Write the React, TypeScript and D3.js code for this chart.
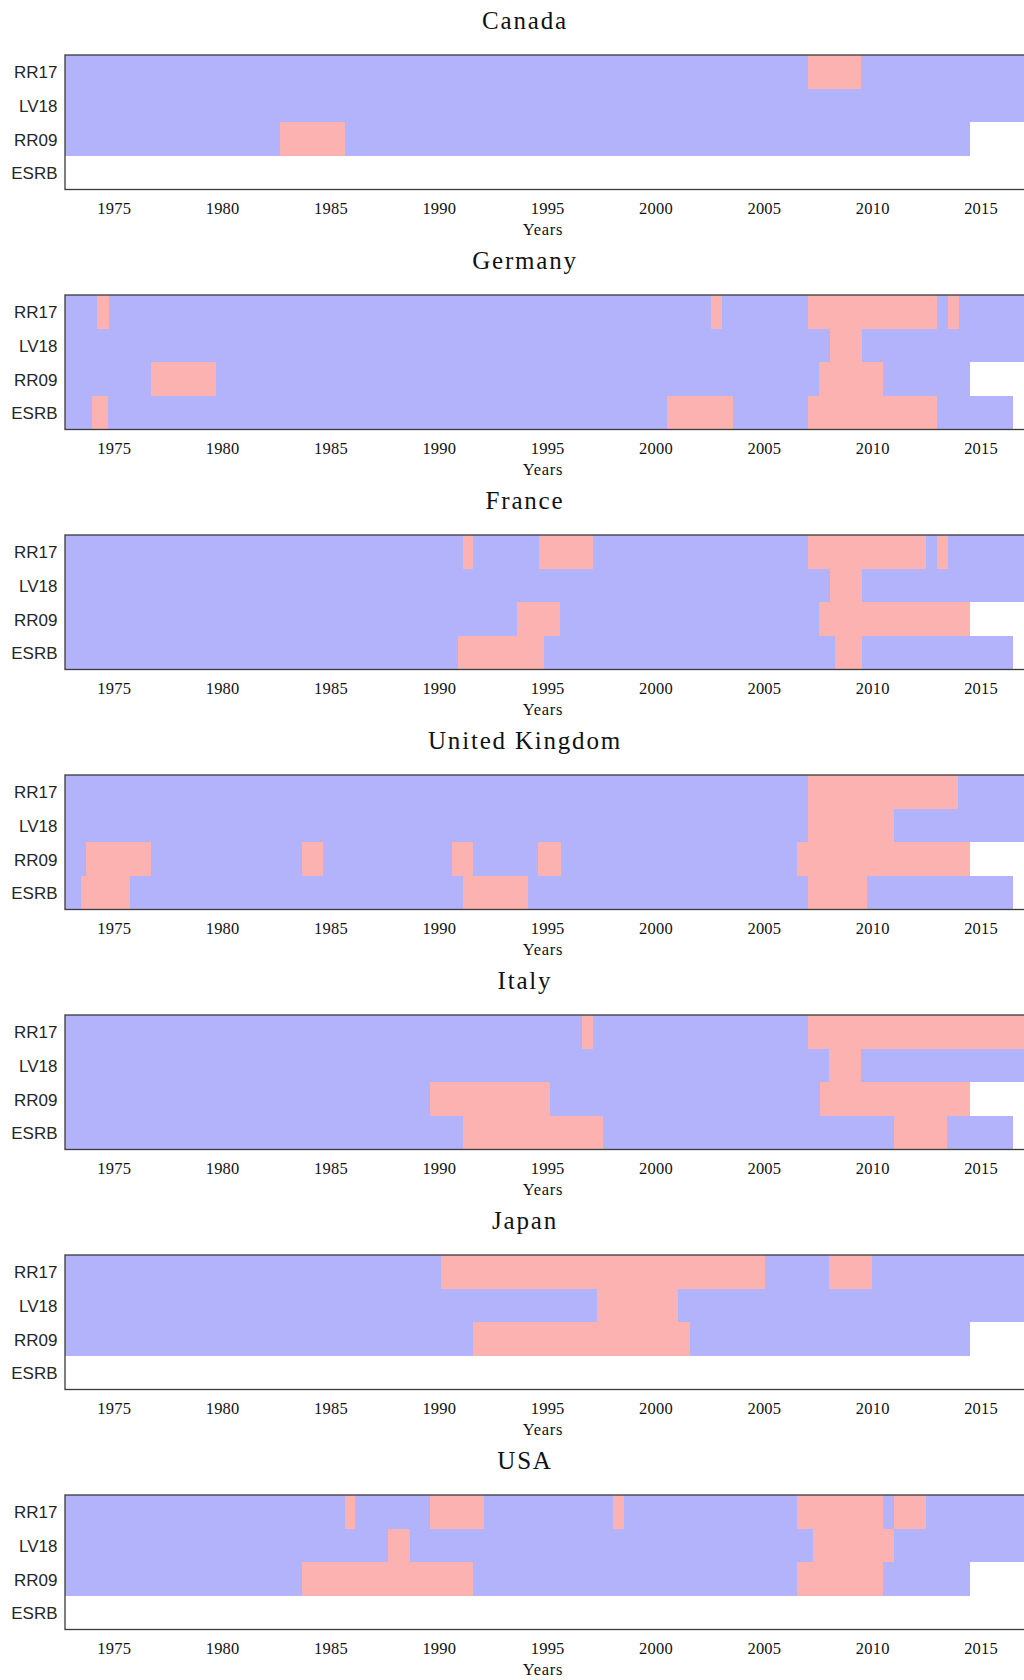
import React, { useEffect, useRef } from "react";
import * as d3 from "d3";

// rows of every panel, top to bottom
const indicators = ["RR17", "LV18", "RR09", "ESRB"];
const countries = ["Canada", "Germany", "France", "United Kingdom", "Italy", "Japan", "USA"];
const yearTicks = [1975, 1980, 1985, 1990, 1995, 2000, 2005, 2010, 2015];

// sample runs from 1972.75; last date per indicator (RR17/LV18 go past the frame)
const sampleStart = 1972.75;
const sampleEnd = [2017.25, 2017.25, 2014.5, 2016.5];

// pink spells [from, to] per indicator row; null = indicator not available
const canadaSpells = [[[2007.03, 2009.5]], [], [[1982.66, 1985.66]], null];
const germanySpells = [
  [[1974.22, 1974.76], [2002.56, 2003.05], [2007.03, 2013.0], [2013.5, 2014.0]],
  [[2008.03, 2009.52]],
  [[1976.71, 1979.71], [2007.53, 2010.49]],
  [[1973.98, 1974.72], [2000.55, 2003.56], [2007.03, 2013.0]],
];
const franceSpells = [
  [[1991.12, 1991.6], [1994.61, 1997.1], [2007.03, 2012.5], [2013.0, 2013.5]],
  [[2008.03, 2009.52]],
  [[1993.6, 1995.57], [2007.53, 2014.5]],
  [[1990.89, 1994.84], [2008.27, 2009.52]],
];
const ukSpells = [
  [[2007.03, 2013.98]],
  [[2007.03, 2011.0]],
  [[1973.7, 1976.7], [1983.68, 1984.67], [1990.63, 1991.6], [1994.6, 1995.62], [2006.52, 2014.5]],
  [[1973.47, 1975.74], [1991.11, 1994.12], [2007.03, 2009.75]],
];
const italySpells = [
  [[1996.59, 1997.1], [2007.03, 2017.25]],
  [[2008.02, 2009.5]],
  [[1989.61, 1995.11], [2007.57, 2014.5]],
  [[1991.11, 1997.6], [2011.0, 2013.47]],
];
const japanSpells = [
  [[1990.12, 2005.04], [2008.02, 2010.0]],
  [[1997.32, 2001.05]],
  [[1991.6, 2001.58]],
  null,
];
const usaSpells = [
  [[1985.67, 1986.15], [1989.61, 1992.1], [1998.06, 1998.55], [2006.52, 2010.49], [2011.0, 2012.5]],
  [[1987.65, 1988.65], [2007.26, 2011.0]],
  [[1983.68, 1991.6], [2006.52, 2010.49]],
  null,
];
const spells = [canadaSpells, germanySpells, franceSpells, ukSpells, italySpells, japanSpells, usaSpells];

const BLUE = "#b3b3fc";
const PINK = "#fdb2b2";
const SERIF = "'Liberation Serif', 'Times New Roman', serif";

const App = () => {
  const svgRef = useRef<SVGSVGElement>(null);

  useEffect(() => {
    const width = 1024;
    const height = 1680;
    const left = 65;
    const panelTop = 55;
    const panelStep = 240;
    const panelHeight = 134.5;

    const svg = d3.select(svgRef.current).attr("width", width).attr("height", height);
    svg.selectAll("*").remove();

    const x = d3.scaleLinear().domain([sampleStart, 2017.25]).range([left, left + 44.5 * 21.67]);

    countries.forEach((country, c) => {
      const top = panelTop + c * panelStep;
      const y = d3.scaleBand().domain(indicators).range([top, top + panelHeight]);
      const g = svg.append("g");
      const cells = g.append("g").attr("shape-rendering", "crispEdges");

      spells[c].forEach((rowSpells, r) => {
        if (rowSpells === null) return;
        const name = indicators[r];
        cells
          .append("rect")
          .attr("x", x(sampleStart))
          .attr("y", y(name))
          .attr("width", x(sampleEnd[r]) - x(sampleStart))
          .attr("height", y.bandwidth())
          .attr("fill", BLUE);
        cells
          .selectAll(null)
          .data(rowSpells)
          .enter()
          .append("rect")
          .attr("x", (d) => x(d[0]))
          .attr("y", y(name))
          .attr("width", (d) => x(Math.min(d[1], sampleEnd[r])) - x(d[0]))
          .attr("height", y.bandwidth())
          .attr("fill", PINK);
      });

      // frame
      g.append("rect")
        .attr("x", x.range()[0])
        .attr("y", top)
        .attr("width", x.range()[1] - x.range()[0])
        .attr("height", panelHeight)
        .attr("fill", "none")
        .attr("stroke", "#3a3a3a")
        .attr("stroke-width", 1.3);

      // row labels
      g.selectAll(null)
        .data(indicators)
        .enter()
        .append("text")
        .attr("x", left - 7.5)
        .attr("y", (d) => y(d) + y.bandwidth() / 2 + 6.5)
        .attr("text-anchor", "end")
        .attr("font-family", "'Liberation Sans', Arial, sans-serif")
        .attr("font-size", 17)
        .attr("fill", "#262626")
        .text((d) => d);

      // year ticks
      const axis = g
        .append("g")
        .attr("transform", `translate(0,${top + panelHeight})`)
        .call(d3.axisBottom(x).tickValues(yearTicks).tickFormat(d3.format("d")).tickSize(0).tickPadding(0));
      axis.select(".domain").remove();
      axis
        .selectAll("text")
        .attr("dy", null)
        .attr("y", 24.5)
        .attr("font-family", SERIF)
        .attr("font-size", 16.5)
        .attr("letter-spacing", 0.2)
        .attr("fill", "#111");

      g.append("text")
        .attr("x", 543)
        .attr("y", top + panelHeight + 45.5)
        .attr("text-anchor", "middle")
        .attr("font-family", SERIF)
        .attr("font-size", 16.5)
        .attr("letter-spacing", 0.7)
        .attr("fill", "#111")
        .text("Years");

      g.append("text")
        .attr("x", 525)
        .attr("y", top - 26)
        .attr("text-anchor", "middle")
        .attr("font-family", SERIF)
        .attr("font-size", 25)
        .attr("letter-spacing", 1.8)
        .attr("fill", "#111")
        .text(country);
    });
  }, []);

  return (
    <svg
      ref={svgRef}
      style={{ position: "absolute", left: 0, top: 0, display: "block", background: "#fff" }}
    ></svg>
  );
};

export default App;
